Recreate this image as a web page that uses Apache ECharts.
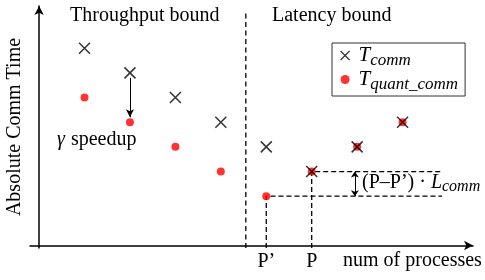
<!DOCTYPE html>
<html>
<head>
<meta charset="utf-8">
<script src="https://cdn.jsdelivr.net/npm/echarts@6/dist/echarts.min.js"></script>
<style>
  html, body { margin: 0; padding: 0; background: #fff; }
  #chart { width: 485px; height: 280px; }
</style>
</head>
<body>
<div id="chart"></div>
<script>
// x = process count step, y = comm time level (schematic, no units)
const procs = [1, 2, 3, 4, 5, 6, 7, 8];
const commTime = [8, 7, 6, 5, 4, 3, 4, 5];
const quantTime = [6, 5, 4, 3, 2, 3, 4, 5];
const boundaryX = 4.55;          // throughput / latency split
const pTicks = [5, 6];           // P' and P
const pTickNames = ["P\u2019", "P"];
const guideEndX = 8.87;

const serif = '"Liberation Serif", "Times New Roman", serif';
const crossPath = 'path://M0,0L10,10M10,0L0,10';

const chart = echarts.init(document.getElementById('chart'));

function dashLine(points, dash) {
  return {
    type: 'line',
    data: points,
    symbol: 'none',
    silent: true,
    z: 1,
    lineStyle: { color: '#000', width: 1.3, type: dash || [5, 3] }
  };
}

const pPrime = pTicks[0], p = pTicks[1];
const yPPrime = quantTime[procs.indexOf(pPrime)];
const yP = quantTime[procs.indexOf(p)];

const option = {
  animation: false,
  grid: { left: 30, right: 12, top: 6, bottom: 32, outerBoundsMode: 'none', containLabel: false },
  xAxis: {
    type: 'value', min: -0.2, max: 9.55,
    splitLine: { show: false },
    axisTick: { show: false },
    axisLine: { lineStyle: { color: '#000', width: 1.5 }, symbol: ['none', 'arrow'], symbolSize: [7, 9] },
    axisLabel: {
      customValues: pTicks,
      formatter: v => pTickNames[pTicks.indexOf(v)],
      margin: 4, color: '#000', fontFamily: serif, fontSize: 20
    }
  },
  yAxis: {
    type: 'value', min: -0.1, max: 9.71,
    splitLine: { show: false },
    axisTick: { show: false },
    axisLabel: { show: false },
    axisLine: { lineStyle: { color: '#000', width: 1.5 }, symbol: ['none', 'arrow'], symbolSize: [7, 9] },
    name: 'Absolute Comm Time',
    nameLocation: 'middle',
    nameGap: 5,
    nameTextStyle: { color: '#000', fontFamily: serif, fontSize: 20 }
  },
  legend: {
    data: [
      { name: 'T_comm', itemStyle: { color: 'rgba(0,0,0,0)', borderColor: '#000', borderWidth: 1.2 } },
      { name: 'T_quant_comm' }
    ],
    orient: 'vertical',
    left: 332, top: 43,
    padding: [2, 7, 3, 8],
    itemGap: 0,
    itemWidth: 9, itemHeight: 9,
    borderColor: '#333', borderWidth: 1,
    formatter: name => name === 'T_comm' ? '{t|T}{s|comm}' : '{t|T}{s|quant_comm}',
    textStyle: {
      color: '#000',
      rich: {
        t: { fontFamily: serif, fontStyle: 'italic', fontSize: 21, lineHeight: 27, padding: [0, 0, 0, 4] },
        s: { fontFamily: serif, fontStyle: 'italic', fontSize: 17, lineHeight: 17, verticalAlign: 'bottom' }
      }
    }
  },
  series: [
    dashLine([[boundaryX, -0.1], [boundaryX, 9.55]], [5, 3.5]),
    dashLine([[pPrime, -0.1], [pPrime, yPPrime], [guideEndX, yPPrime]]),
    dashLine([[p, -0.1], [p, yP], [guideEndX, yP]]),
    {
      name: 'T_quant_comm',
      type: 'scatter',
      data: procs.map((x, i) => [x, quantTime[i]]),
      symbol: 'circle',
      symbolSize: 8,
      itemStyle: { color: '#f00' },
      z: 3
    },
    {
      name: 'T_comm',
      type: 'scatter',
      data: procs.map((x, i) => [x, commTime[i]]),
      symbol: crossPath,
      symbolSize: 11,
      itemStyle: { color: 'rgba(0,0,0,0)', borderColor: '#000', borderWidth: 1.5 },
      z: 4,
      markLine: {
        silent: true,
        label: { show: false },
        lineStyle: { color: '#000', width: 1, type: 'solid' },
        data: [
          // gamma speedup arrow
          [{ coord: [2, 6.8], symbol: 'none' }, { coord: [2, 5.2], symbol: 'arrow', symbolSize: [6, 8] }],
          // latency gap double arrow
          [{ coord: [6.95, yP], symbol: 'arrow', symbolSize: [6, 6] }, { coord: [6.95, yPPrime], symbol: 'arrow', symbolSize: [6, 6] }]
        ]
      }
    }
  ],
  graphic: [
    { type: 'text', left: 70, top: 6, style: { text: 'Throughput bound', font: '20px ' + serif, fill: '#000' } },
    { type: 'text', left: 272, top: 6, style: { text: 'Latency bound', font: '20px ' + serif, fill: '#000' } },
    {
      type: 'text', left: 57, top: 130,
      style: {
        text: '{g|\u03b3}{n|speedup}',
        rich: {
          g: { fontFamily: serif, fontStyle: 'italic', fontSize: 20, fill: '#000' },
          n: { fontFamily: serif, fontSize: 20, fill: '#000', padding: [0, 0, 0, 6] }
        }
      }
    },
    {
      type: 'text', left: 362, top: 173,
      style: {
        text: '{n|(P\u2013P\u2019) \u00b7 }{l|L}{s|comm}',
        rich: {
          n: { fontFamily: serif, fontSize: 20, lineHeight: 24, fill: '#000' },
          l: { fontFamily: serif, fontStyle: 'italic', fontSize: 20, lineHeight: 24, fill: '#000' },
          s: { fontFamily: serif, fontStyle: 'italic', fontSize: 16, lineHeight: 16, verticalAlign: 'bottom', fill: '#000' }
        }
      }
    },
    { type: 'text', left: 343, top: 251, style: { text: 'num of processes', font: '20px ' + serif, fill: '#000' } }
  ]
};

chart.setOption(option);
</script>
</body>
</html>
